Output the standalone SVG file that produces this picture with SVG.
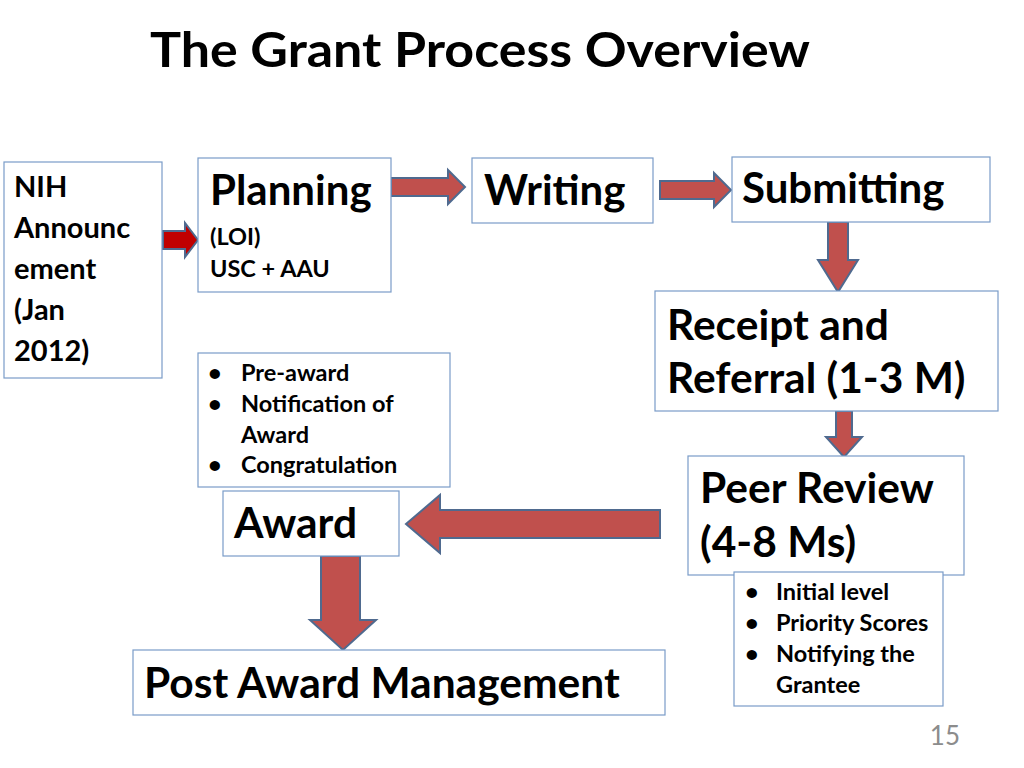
<svg xmlns="http://www.w3.org/2000/svg" width="1024" height="768" viewBox="0 0 1024 768">
<style>
text{font-family:Lato,"Open Sans","Liberation Sans",sans-serif;font-weight:bold;fill:#000}
.box{fill:#fff;stroke:#7a9cc8;stroke-width:1.2}
.arr{fill:#c0504d;stroke:#4f6a8f;stroke-width:2}
.big{font-size:42.5px}.hd{font-size:42px}.mid{font-size:29px}.sm{font-size:23.5px}
</style>
<rect width="1024" height="768" fill="#fff"/>
<text x="150" y="67" textLength="660" lengthAdjust="spacingAndGlyphs" style="font-size:48px">The Grant Process Overview</text>
<g id="connectors">
<path class="arr" style="fill:#c00000" d="M163,231H185V223L198,240L185,257V249H163Z"/>
<path class="arr" d="M391,178H448V170L465,187L448,204V196H391Z"/>
<path class="arr" d="M660,181H714V173L731,190L714,207V199H660Z"/>
<path class="arr" d="M828,222H848V260H858L838,292L818,260H828Z"/>
<path class="arr" d="M836,411H852V437H862L844,457L826,437H836Z"/>
<path class="arr" d="M660,510V538H440V553L406,524L440,495V510Z"/>
<path class="arr" d="M321,556H360V620H376L343,650L310,620H321Z"/>
</g>
<g id="nih"><rect class="box" x="4" y="162" width="158" height="216"/>
<text class="mid" x="14"><tspan x="14" y="197">NIH</tspan><tspan x="14" y="238">Announc</tspan><tspan x="14" y="279">ement</tspan><tspan x="14" y="320">(Jan</tspan><tspan x="14" y="361">2012)</tspan></text></g>
<g id="planning"><rect class="box" x="198" y="158" width="193" height="134"/>
<text class="hd" x="210" y="205">Planning</text>
<text class="sm" x="210" y="245">(LOI)</text><text class="sm" x="210" y="277">USC + AAU</text></g>
<g id="writing"><rect class="box" x="472" y="158" width="181" height="65"/>
<text class="hd" x="484" y="205">Writing</text></g>
<g id="submitting"><rect class="box" x="732" y="157" width="258" height="65"/>
<text class="hd" x="742" y="203">Submitting</text></g>
<g id="receipt"><rect class="box" x="655" y="291" width="343" height="120"/>
<text class="big" x="667" y="340">Receipt and</text><text class="big" x="667" y="393">Referral (1-3 M)</text></g>
<g id="peer"><rect class="box" x="688" y="456" width="276" height="119"/>
<text class="big" x="700" y="503">Peer Review</text><text class="big" x="700" y="557">(4-8 Ms)</text></g>
<g id="peer-notes"><rect class="box" x="734" y="572" width="209" height="134"/>
<text class="sm" x="745" y="600">•</text><text class="sm" x="776" y="600">Initial level</text>
<text class="sm" x="745" y="631">•</text><text class="sm" x="776" y="631">Priority Scores</text>
<text class="sm" x="745" y="662">•</text><text class="sm" x="776" y="662">Notifying the</text>
<text class="sm" x="776" y="693">Grantee</text></g>
<g id="award-notes"><rect class="box" x="198" y="353" width="252" height="134"/>
<text class="sm" x="208" y="381">•</text><text class="sm" x="241" y="381">Pre-award</text>
<text class="sm" x="208" y="412">•</text><text class="sm" x="241" y="412">Notification of</text>
<text class="sm" x="241" y="443">Award</text>
<text class="sm" x="208" y="473">•</text><text class="sm" x="241" y="473">Congratulation</text></g>
<g id="award"><rect class="box" x="223" y="491" width="176" height="65"/>
<text class="big" x="234" y="538">Award</text></g>
<g id="post"><rect class="box" x="133" y="650" width="532" height="65"/>
<text class="big" x="144" y="698">Post Award Management</text></g>
<text x="960" y="745" text-anchor="end" style="font-size:26px;font-weight:normal;fill:#8c8c8c">15</text>
</svg>
